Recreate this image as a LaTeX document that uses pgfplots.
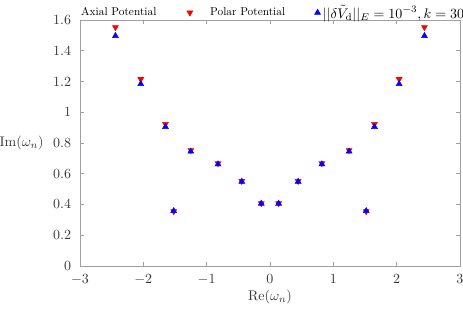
\documentclass[border=0pt]{standalone}
\usepackage{pgfplots}
\pgfplotsset{compat=1.18}
\definecolor{axgray}{RGB}{160,160,160}
\definecolor{txgray}{RGB}{55,55,55}
\begin{document}
\begin{tikzpicture}
\path[use as bounding box] (-57.1pt,-32.1pt) rectangle (273.5pt,189.9pt);
\begin{axis}[
  at={(0,0)}, anchor=south west,
  scale only axis, width=271.3pt, height=175.6pt,
  xmin=-3, xmax=3, ymin=0, ymax=1.6,
  xtick={-3,-2,...,3},
  ytick={0,0.2,0.4,0.6,0.8,1,1.2,1.4,1.6},
  tick align=inside, tick pos=both,
  major tick length=2.9pt,
  axis line style={axgray, line width=0.6pt},
  every tick/.style={axgray, line width=0.45pt},
  ticklabel style={text=txgray},
  yticklabel style={xshift=-2.8pt},
  xticklabel style={yshift=-2.4pt},
  yticklabel style={/pgf/number format/fixed},
  xlabel={$\mathrm{Re}(\omega_n)$},
  ylabel={$\mathrm{Im}(\omega_n)$},
  xlabel style={at={(rel axis cs:0.5,0)}, anchor=center, yshift=-22.1pt, text=txgray},
  ylabel style={rotate=-90, at={(rel axis cs:0,0.5)}, anchor=east, xshift=-22.4pt, text=txgray},
  legend columns=3,
  legend plot pos=right,
  legend image code/.code={%
    \path (0pt,0pt) (10pt,0pt);
    \draw[mark repeat=2,mark phase=2,#1] plot coordinates {(0pt,0pt) (5pt,0pt) (10pt,0pt)};},
  legend style={at={(rel axis cs:0,1)}, anchor=south west, draw=none, fill=none,
    inner sep=0pt, nodes={inner sep=0pt}, yshift=-0.3pt, xshift=0.7pt,
    /tikz/column 1/.style={column sep=18.7pt},
    /tikz/column 2/.style={column sep=9.3pt},
    /tikz/column 3/.style={column sep=17.9pt},
    /tikz/column 4/.style={column sep=-1.4pt}},
]
\addplot[only marks, mark=triangle*, mark size=2.4pt, color=red, mark options={rotate=180, fill=red}]
coordinates {
(-2.44,1.553) (-2.04,1.215) (-1.65,0.923) (-1.25,0.753) (-0.82,0.667) (-0.445,0.552) (-0.137,0.407)
(0.137,0.407) (0.445,0.552) (0.82,0.667) (1.25,0.753) (1.65,0.923) (2.04,1.215) (2.44,1.553)
(-1.52,0.355) (1.52,0.355)
};
\addlegendentry{\scalebox{0.81}{Axial Potential}}
\addplot[only marks, mark=triangle*, mark size=2.4pt, color=blue, mark options={fill=blue}]
coordinates {
(-2.44,1.497) (-2.04,1.184) (-1.65,0.905) (-1.25,0.745) (-0.82,0.662) (-0.445,0.549) (-0.137,0.406)
(0.137,0.406) (0.445,0.549) (0.82,0.662) (1.25,0.745) (1.65,0.905) (2.04,1.184) (2.44,1.497)
(-1.52,0.358) (1.52,0.358)
};
\addlegendentry{\scalebox{0.81}{Polar Potential}}
\addlegendimage{empty legend}
\addlegendentry{$||\delta\tilde{V}_{\mathrm{d}}||_{E} = 10^{-3}, k = 30$}
\end{axis}
\end{tikzpicture}
\end{document}
